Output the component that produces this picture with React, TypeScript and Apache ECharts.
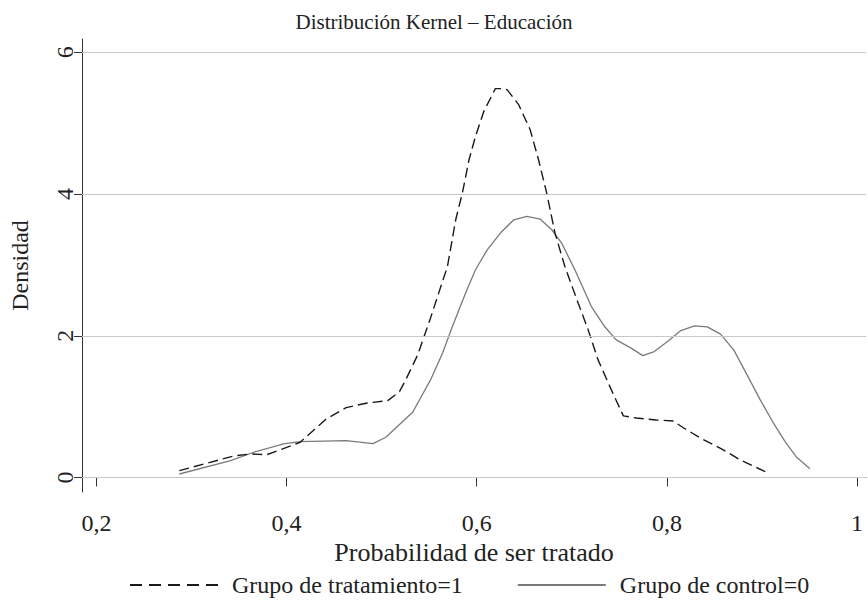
import React, { useEffect, useRef } from "react";
import * as echarts from "echarts";

const titleText = "Distribución Kernel – Educación";
const xName = "Probabilidad de ser tratado";
const yName = "Densidad";
const seriesNames = ["Grupo de tratamiento=1", "Grupo de control=0"];
const xTicks = [0.2, 0.4, 0.6, 0.8, 1];
const yTicks = [0, 2, 4, 6];

const treatX = [0.2872, 0.3446, 0.3621, 0.3791, 0.4073, 0.4143, 0.4418, 0.4627, 0.4836, 0.5065, 0.5187, 0.5253, 0.5379, 0.5514, 0.564, 0.5692, 0.5779, 0.5849, 0.5919, 0.5987, 0.6075, 0.6196, 0.6266, 0.6319, 0.6441, 0.6562, 0.665, 0.6736, 0.6823, 0.6927, 0.7067, 0.7172, 0.7276, 0.7416, 0.7542, 0.7677, 0.7886, 0.8064, 0.8181, 0.8355, 0.8564, 0.8773, 0.9034];
const treatY = [0.096, 0.304, 0.332, 0.322, 0.459, 0.497, 0.826, 0.986, 1.048, 1.085, 1.212, 1.377, 1.73, 2.25, 2.766, 2.977, 3.637, 4.014, 4.484, 4.814, 5.167, 5.487, 5.487, 5.473, 5.261, 4.908, 4.484, 4.014, 3.449, 2.977, 2.46, 2.083, 1.66, 1.236, 0.869, 0.84, 0.812, 0.798, 0.695, 0.554, 0.412, 0.247, 0.082];

const ctrlX = [0.2872, 0.3412, 0.3655, 0.3969, 0.4143, 0.4627, 0.4909, 0.5044, 0.5326, 0.5514, 0.564, 0.5744, 0.5883, 0.5987, 0.611, 0.6249, 0.6389, 0.6527, 0.6666, 0.6789, 0.6893, 0.7032, 0.7206, 0.7345, 0.7467, 0.7624, 0.7746, 0.7867, 0.8007, 0.8146, 0.8292, 0.8425, 0.8564, 0.8703, 0.8843, 0.8982, 0.9121, 0.9243, 0.9365, 0.9504];
const ctrlY = [0.049, 0.237, 0.356, 0.473, 0.506, 0.52, 0.477, 0.568, 0.921, 1.377, 1.754, 2.13, 2.602, 2.931, 3.213, 3.449, 3.637, 3.684, 3.647, 3.496, 3.308, 2.931, 2.412, 2.13, 1.942, 1.825, 1.72, 1.777, 1.918, 2.073, 2.14, 2.126, 2.023, 1.801, 1.448, 1.095, 0.766, 0.506, 0.285, 0.124];

const FONT = "'Liberation Serif', 'DejaVu Serif', serif";
const DASH_ICON = "path://M0,0h12v2h-12zM19,0h12v2h-12zM38,0h12v2h-12zM57,0h12v2h-12zM76,0h12v2h-12z";
const SOLID_ICON = "path://M0,0h88v2h-88z";

export default function App() {
  const ref = useRef<HTMLDivElement>(null);
  useEffect(() => {
    if (!ref.current) return;
    const chart = echarts.init(ref.current, undefined, { renderer: "svg" });
    const fmt = (v: number) => String(Math.round(v * 10) / 10).replace(".", ",");
    chart.setOption({
      animation: false,
      backgroundColor: "#ffffff",
      textStyle: { fontFamily: FONT },
      title: {
        text: titleText,
        left: "center",
        top: 6,
        textStyle: { fontFamily: FONT, fontSize: 21, fontWeight: "normal", color: "#222" },
      },
      legend: {
        data: [
          { name: seriesNames[0], icon: DASH_ICON },
          { name: seriesNames[1], icon: SOLID_ICON },
        ],
        left: 130,
        top: 573,
        padding: 0,
        itemWidth: 88,
        itemHeight: 2,
        itemGap: 55,
        textStyle: { fontFamily: FONT, fontSize: 24, color: "#222", padding: [0, 0, 0, 9] },
      },
      grid: { left: 77, right: 2, top: 39, bottom: 110 },
      xAxis: {
        type: "value",
        min: 0.18486,
        max: 1.0094,
        name: xName,
        nameLocation: "middle",
        nameGap: 43,
        nameTextStyle: { fontFamily: FONT, fontSize: 26, color: "#222" },
        axisLine: { show: true, lineStyle: { color: "#333", width: 1 } },
        axisTick: { show: true, length: 9, customValues: xTicks, lineStyle: { color: "#333" } },
        axisLabel: {
          customValues: xTicks,
          formatter: fmt,
          margin: 19,
          fontFamily: FONT,
          fontSize: 24,
          color: "#222",
        },
        splitLine: { show: false },
      },
      yAxis: {
        type: "value",
        min: -0.205,
        max: 6.188,
        name: yName,
        nameLocation: "middle",
        nameGap: 50,
        nameRotate: 90,
        nameTextStyle: { fontFamily: FONT, fontSize: 24, color: "#222" },
        axisLine: { show: true, lineStyle: { color: "#333", width: 1 } },
        axisTick: { show: true, length: 8, customValues: yTicks, lineStyle: { color: "#333" } },
        axisLabel: {
          customValues: yTicks,
          formatter: fmt,
          rotate: 90,
          margin: 5,
          fontFamily: FONT,
          fontSize: 24,
          color: "#222",
        },
        splitLine: { show: false },
      },
      series: [
        {
          name: "grid",
          type: "line",
          data: [],
          z: 0,
          silent: true,
          markLine: {
            silent: true,
            symbol: "none",
            label: { show: false },
            lineStyle: { color: "#c8c8c8", type: "solid", width: 1 },
            data: yTicks.map((v) => ({ yAxis: v })),
          },
        },
        {
          name: seriesNames[0],
          type: "line",
          showSymbol: false,
          symbol: "none",
          z: 3,
          color: "#1a1a1a",
          lineStyle: { color: "#1a1a1a", width: 1.4, type: [10, 5] },
          data: treatX.map((x, i) => [x, treatY[i]]),
        },
        {
          name: seriesNames[1],
          type: "line",
          showSymbol: false,
          symbol: "none",
          z: 2,
          color: "#7a7a7a",
          lineStyle: { color: "#7a7a7a", width: 1.3, type: "solid" },
          data: ctrlX.map((x, i) => [x, ctrlY[i]]),
        },
      ],
    });
    return () => chart.dispose();
  }, []);
  return <div ref={ref} style={{ width: 868, height: 602, position: "absolute", left: 0, top: 0 }} />;
}
